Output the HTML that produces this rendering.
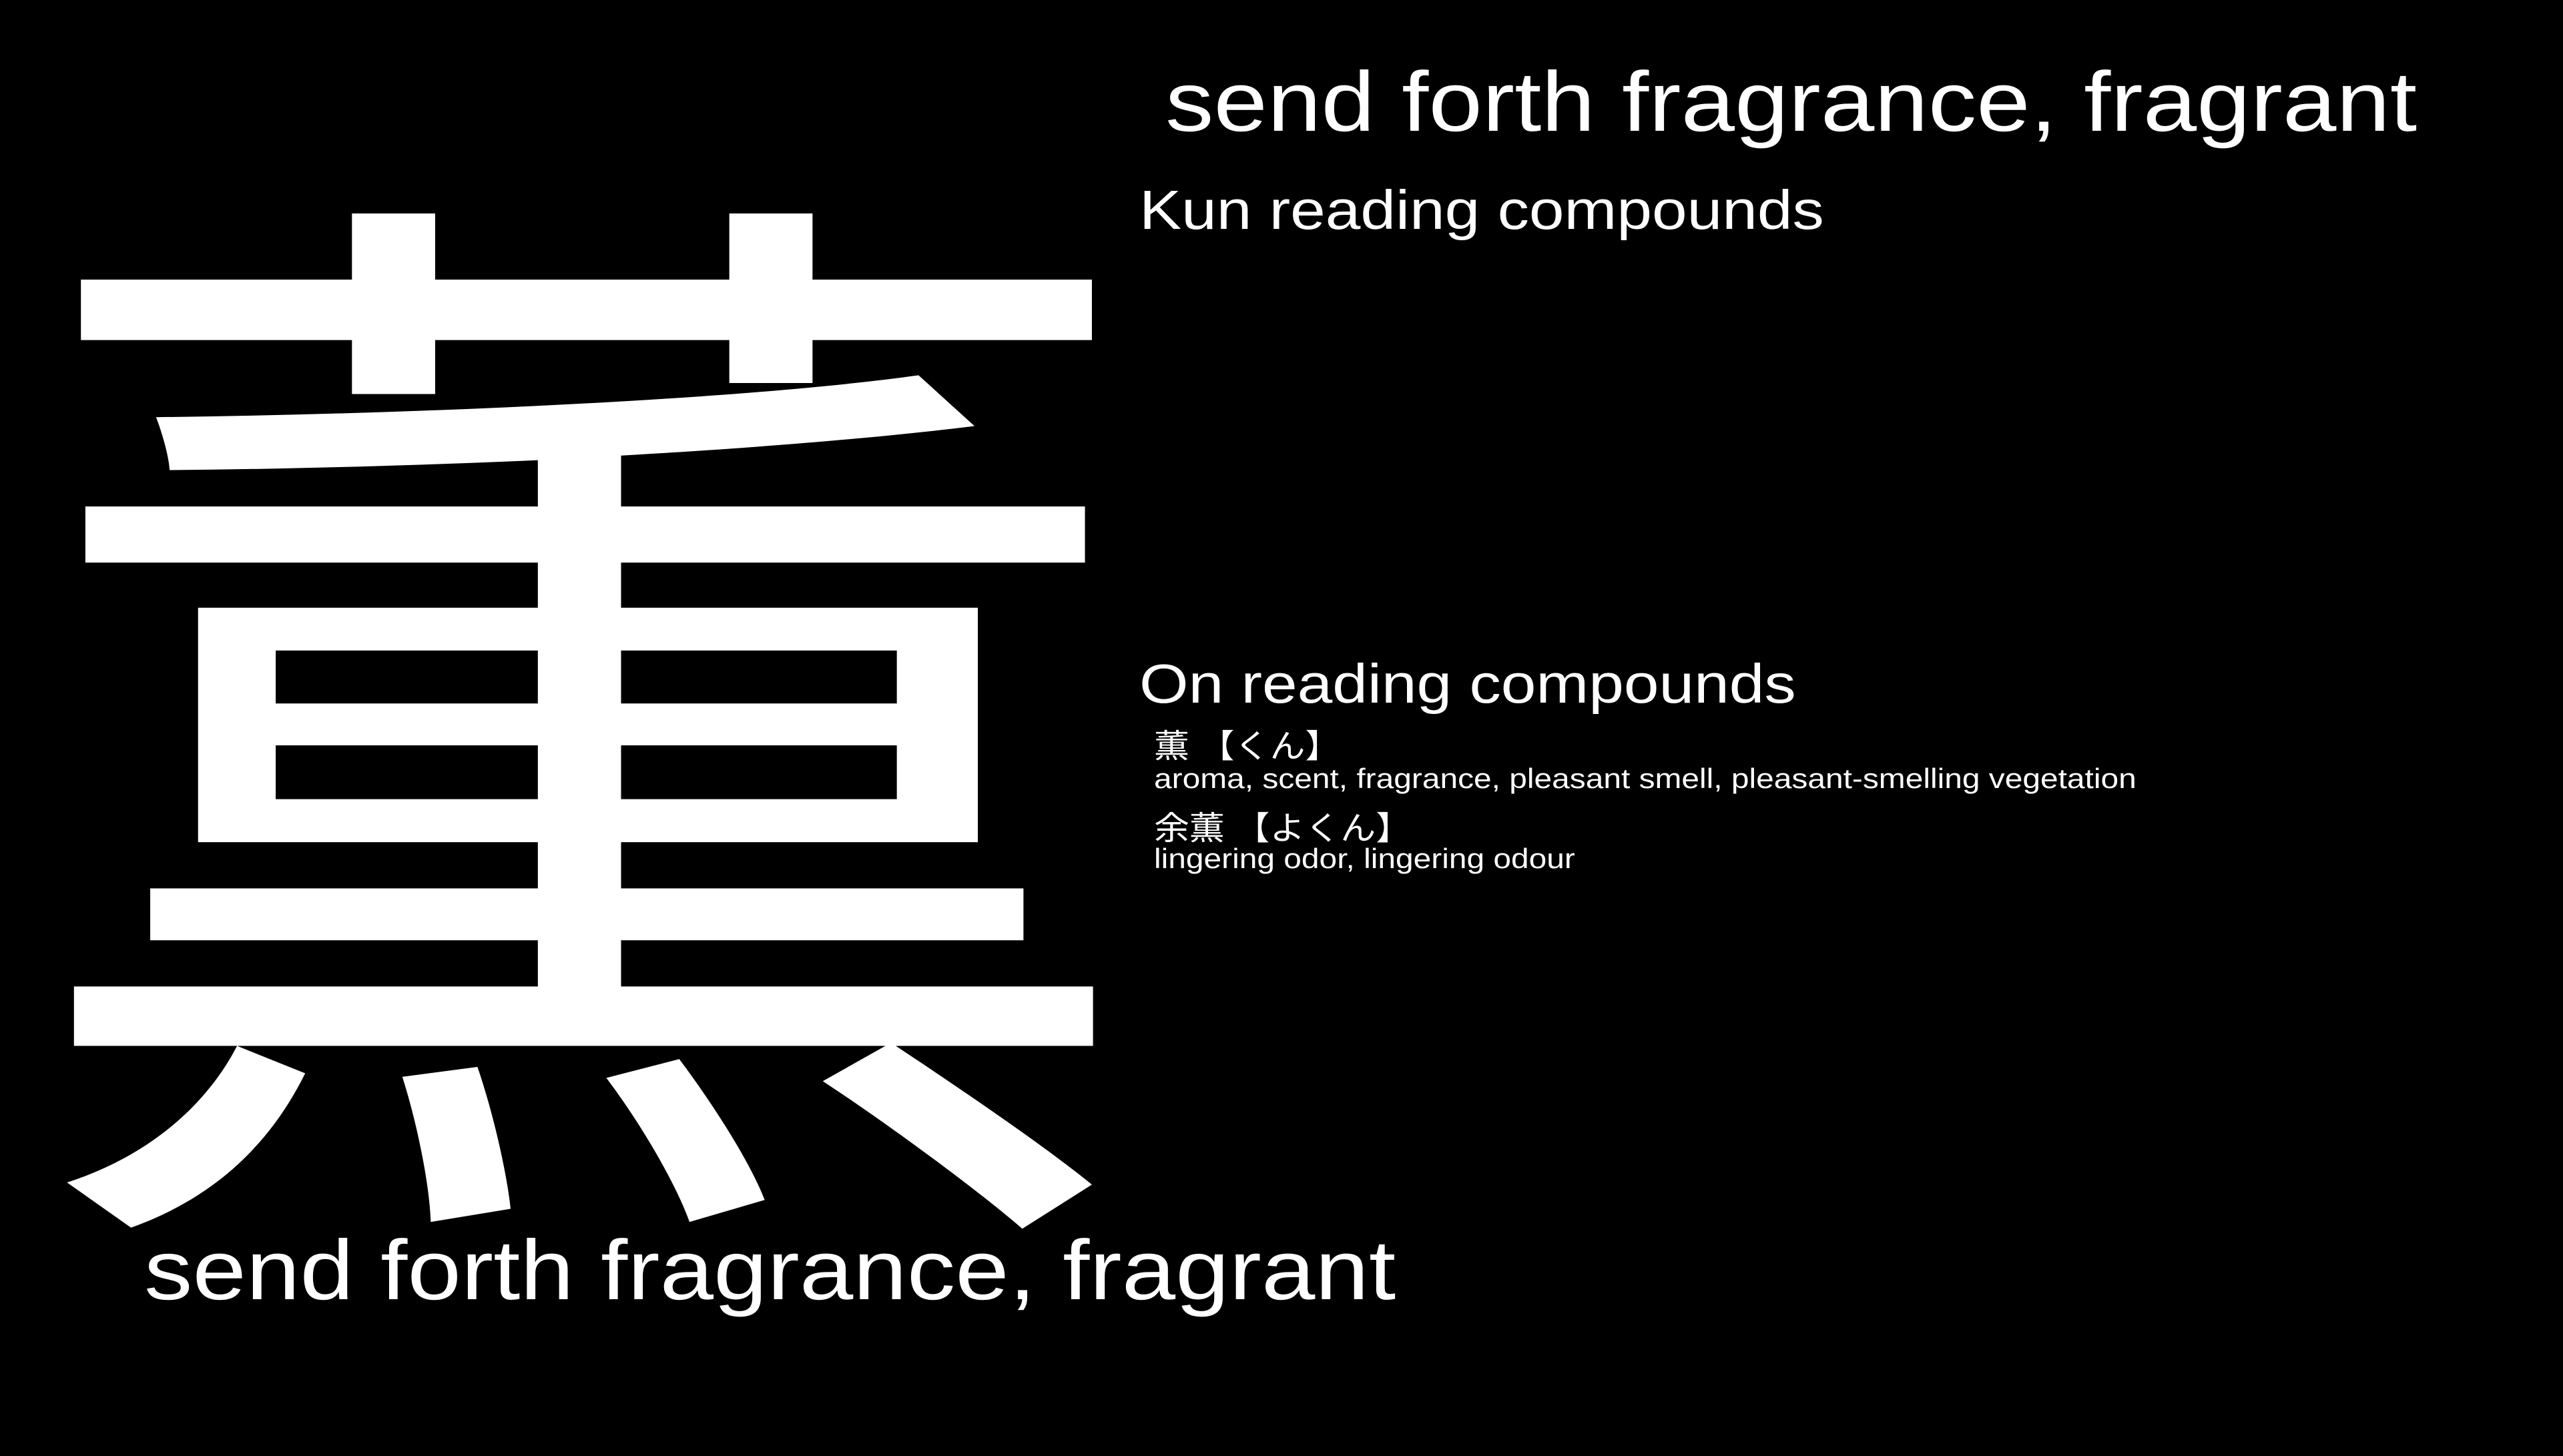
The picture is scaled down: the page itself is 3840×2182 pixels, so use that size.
<!DOCTYPE html>
<html><head><meta charset="utf-8"><style>
html,body{margin:0;padding:0;background:#000;}
body{width:3840px;height:2160px;position:relative;overflow:hidden;color:#fff;font-family:"Liberation Sans","Noto Sans CJK JP",sans-serif;}
div{position:absolute;white-space:nowrap;line-height:1;transform-origin:0 0;}
.w{transform:scaleX(1.14);}
</style></head><body>
<div style="left:22px;top:163px;font-size:1650px;font-family:'Noto Sans CJK JP',sans-serif;transform:scaleX(1.035);">薫</div>
<div class="w" style="left:1746px;top:89px;font-size:127px;">send forth fragrance, fragrant</div>
<div class="w" style="left:1707px;top:273px;font-size:83px;">Kun reading compounds</div>
<div class="w" style="left:1707px;top:983px;font-size:83px;">On reading compounds</div>
<div style="left:1729px;top:1095px;font-size:49px;transform:scaleX(1.08);">薫 【くん】</div>
<div class="w" style="left:1729px;top:1146px;font-size:42px;">aroma, scent, fragrance, pleasant smell, pleasant-smelling vegetation</div>
<div style="left:1729px;top:1218px;font-size:49px;transform:scaleX(1.08);">余薫 【よくん】</div>
<div class="w" style="left:1729px;top:1266px;font-size:42px;">lingering odor, lingering odour</div>
<div class="w" style="left:216px;top:1840px;font-size:127px;">send forth fragrance, fragrant</div>
</body></html>
